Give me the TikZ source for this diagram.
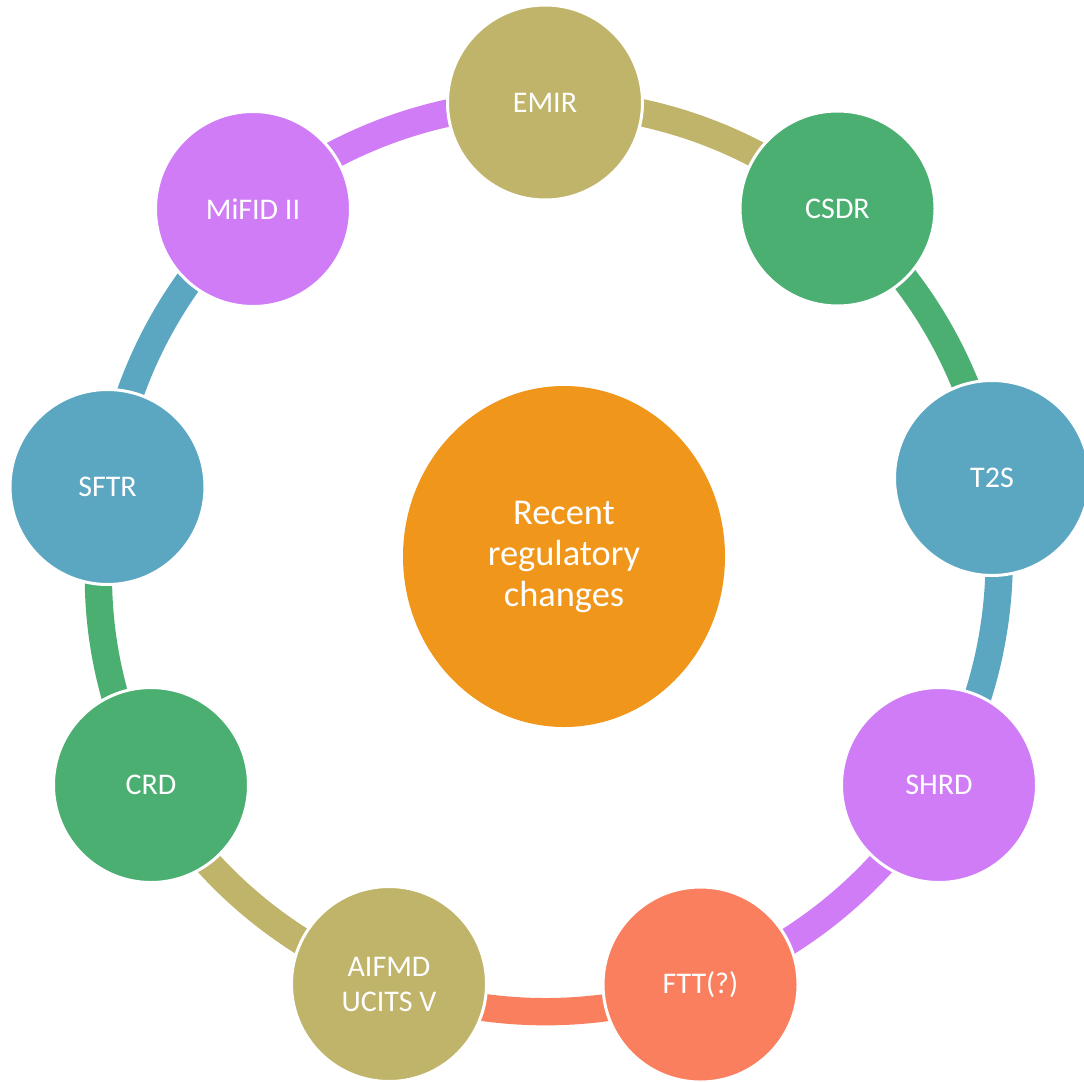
\documentclass[tikz,border=0pt]{standalone}
\usepackage{fontspec}
\setmainfont{Carlito}
\usetikzlibrary{shapes.geometric}
\pgfdeclarelayer{background}
\pgfsetlayers{background,main}
\definecolor{cOlive}{HTML}{C0B46A}
\definecolor{cGreen}{HTML}{4CAF72}
\definecolor{cBlue}{HTML}{5BA7C2}
\definecolor{cViolet}{HTML}{D07CF7}
\definecolor{cSalmon}{HTML}{FA7F5E}
\definecolor{cOrange}{HTML}{F0961A}
\begin{document}
\begin{tikzpicture}[x=0.75pt,y=-0.75pt,
  item/.style={circle,draw=white,line width=2.25pt,minimum size=146.25pt,inner sep=0pt,
    text=white,font=\fontsize{22.5}{26.25}\selectfont,align=center},
  band/.style={line width=20.5pt,bend left=20,looseness=0.88}]
\useasboundingbox (0,0) rectangle (1084,1081);
\node[item,fill=cOlive]  (emir)  at (545,102.5) {EMIR};
\node[item,fill=cGreen]  (csdr)  at (837.5,208.5) {CSDR};
\node[item,fill=cBlue]   (t2s)   at (992,478) {T2S};
\node[item,fill=cViolet] (shrd)  at (939,785) {SHRD};
\node[item,fill=cSalmon] (ftt)   at (700.5,984.5) {FTT(?)};
\node[item,fill=cOlive]  (aifmd) at (389,984) {AIFMD\\UCITS V};
\node[item,fill=cGreen]  (crd)   at (151,785) {CRD};
\node[item,fill=cBlue]   (sftr)  at (107.5,487) {SFTR};
\node[item,fill=cViolet] (mifid) at (253,209) {MiFID II};
\node[ellipse,fill=cOrange,minimum width=241.5pt,minimum height=255.75pt,inner sep=0pt,
  text=white,font=\fontsize{27.3}{30.75}\selectfont,align=center] (core) at (564,556.5)
  {\raisebox{-2.2pt}{\parbox{150pt}{\centering Recent\\regulatory\\changes}}};
\begin{pgfonlayer}{background}
\draw[band,cOlive]  (emir.center)  to (csdr.center);
\draw[band,cGreen]  (csdr.center)  to (t2s.center);
\draw[band,cBlue]   (t2s.center)   to (shrd.center);
\draw[band,cViolet] (shrd.center)  to (ftt.center);
\draw[band,cSalmon] (ftt.center)   to (aifmd.center);
\draw[band,cOlive]  (aifmd.center) to (crd.center);
\draw[band,cGreen]  (crd.center)   to (sftr.center);
\draw[band,cBlue]   (sftr.center)  to (mifid.center);
\draw[band,cViolet] (mifid.center) to (emir.center);
\end{pgfonlayer}
\end{tikzpicture}
\end{document}
